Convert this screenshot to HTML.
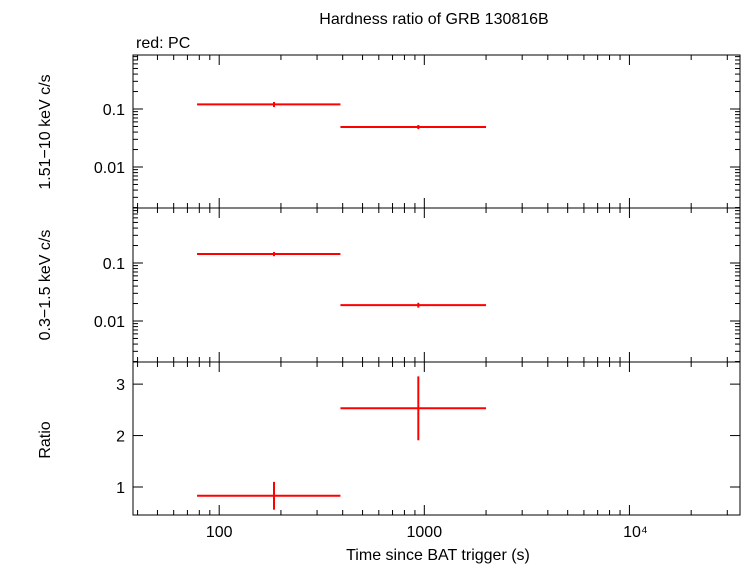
<!DOCTYPE html>
<html><head><meta charset="utf-8"><style>
body{margin:0;background:#fff;}
svg text{font-family:"Liberation Sans",sans-serif;font-size:16px;fill:#000;}
</style></head><body>
<svg id="c" width="742" height="566" xmlns="http://www.w3.org/2000/svg">
<text x="434" y="24" text-anchor="middle">Hardness ratio of GRB 130816B</text>
<text x="136" y="48">red: PC</text>
<text x="438" y="560" text-anchor="middle">Time since BAT trigger (s)</text>
<text transform="translate(50,132) rotate(-90)" text-anchor="middle">1.51−10 keV c/s</text>
<text transform="translate(50,285) rotate(-90)" text-anchor="middle">0.3−1.5 keV c/s</text>
<text transform="translate(50,440) rotate(-90)" text-anchor="middle">Ratio</text>
<g id="g"></g>
</svg>
<script>
const binLo=[78,390];
const binHi=[390,2000];
const binMid=[185,935];
const hardVal=[0.12,0.049];
const hardErr=[0.012,0.004];
const softVal=[0.143,0.0188];
const softErr=[0.012,0.0018];
const ratioVal=[0.83,2.53];
const ratioErr=[0.27,0.62];
const xTicks=[100,1000,10000];
const xTickLabels=["100","1000","10⁴"];
const L=133,R=740;
const xmin=Math.log10(38),xmax=Math.log10(34600);
const X=v=>L+(Math.log10(v)-xmin)/(xmax-xmin)*(R-L);
const panels=[
 {name:'hard',top:55,bot:208,log:true,ymin:-2.707,ymax:-0.069,vals:hardVal,errs:hardErr,ticks:[0.01,0.1],labels:["0.01","0.1"]},
 {name:'soft',top:208,bot:362,log:true,ymin:-2.707,ymax:-0.052,vals:softVal,errs:softErr,ticks:[0.01,0.1],labels:["0.01","0.1"]},
 {name:'ratio',top:362,bot:515,log:false,ymin:0.456,ymax:3.43,vals:ratioVal,errs:ratioErr,ticks:[1,2,3],labels:["1","2","3"]}
];
const g=document.getElementById('g');
const NS='http://www.w3.org/2000/svg';
function mk(t,a,p){const e=document.createElementNS(NS,t);for(const k in a)e.setAttribute(k,a[k]);(p||g).appendChild(e);return e;}
function ln(x1,y1,x2,y2,c,w,name){const e=mk('line',{x1,y1,x2,y2,stroke:c,'stroke-width':w});

return e;}
panels.forEach((p,pi)=>{
 const Y=v=>{const t=p.log?Math.log10(v):v;return p.bot-(t-p.ymin)/(p.ymax-p.ymin)*(p.bot-p.top);};
 const fr=mk('rect',{x:L,y:p.top,width:R-L,height:p.bot-p.top,fill:'none',stroke:'#000','stroke-width':1});
 
 
 // x ticks
 for(let d=1;d<=5;d++){for(let m=1;m<10;m++){const v=m*Math.pow(10,d);const x=X(v);if(x<L||x>R)continue;const len=m==1?10:5;
  ln(x,p.bot,x,p.bot-len,'#000',1,'x-tick');ln(x,p.top,x,p.top+len,'#000',1,'x-tick');}}
 // y ticks
 if(p.log){for(let d=-3;d<=0;d++){for(let m=1;m<10;m++){const v=m*Math.pow(10,d);const y=Y(v);if(y<p.top||y>p.bot)continue;const len=m==1?10:5;
  ln(L,y,L+len,y,'#000',1,'y-tick');ln(R,y,R-len,y,'#000',1,'y-tick');}}}
 else{p.ticks.forEach(v=>{const y=Y(v);ln(L,y,L+10,y,'#000',1,'y-tick');ln(R,y,R-10,y,'#000',1,'y-tick');});}
 p.ticks.forEach((v,i)=>{const t=mk('text',{x:L-8,y:Y(v)+6,'text-anchor':'end'});t.textContent=p.labels[i];
  
  });
 if(pi==2){xTicks.forEach((v,i)=>{const t=mk('text',{x:X(v)+(i==2?6:0),y:p.bot+22,'text-anchor':'middle'});t.textContent=xTickLabels[i];
  
  });}
 p.vals.forEach((v,i)=>{
  ln(X(binLo[i]),Y(v),X(binHi[i]),Y(v),'#f00',2,p.name+'-bin-'+(i+1)+'-xerr');
  ln(X(binMid[i]),Y(v+p.errs[i]),X(binMid[i]),Y(v-p.errs[i]),'#f00',2,p.name+'-bin-'+(i+1)+'-yerr');
 });
});
</script>
</body></html>
